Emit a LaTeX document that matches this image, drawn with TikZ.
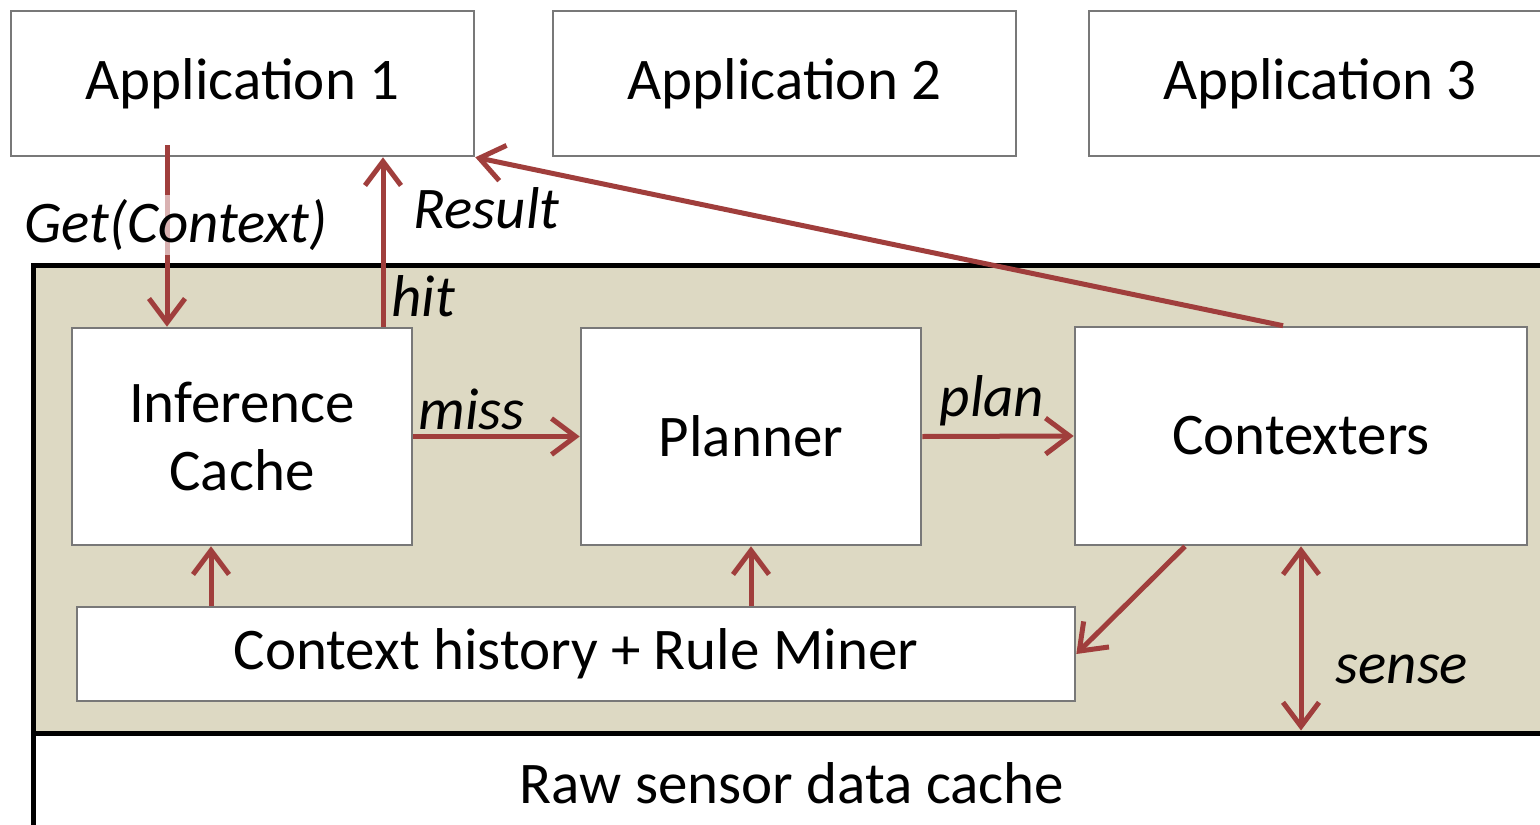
\documentclass[tikz,border=0pt]{standalone}
\usepackage{fontspec}
\setmainfont{Carlito}
\usetikzlibrary{arrows.meta}
\definecolor{flowred}{RGB}{160,62,60}
\definecolor{layerbeige}{RGB}{221,217,195}
\definecolor{boxgray}{RGB}{120,120,120}

\begin{document}
\begin{tikzpicture}[x=0.5pt, y=-0.5pt,
    every node/.style={font=\fontsize{29.5}{34}\selectfont},
    box/.style={draw=boxgray, line width=1.3pt, fill=white, align=center, inner sep=0pt},
    flow/.style={draw=flowred, line width=2.5pt, -{Straight Barb[length=12pt, width=18pt]}},
    lbl/.style={font=\fontsize{29.5}{34}\selectfont\itshape, inner sep=2pt}]
  \clip (0, 0) rectangle (1540, 824);
  \fill[white] (0, 0) rectangle (1540, 824);

  % middleware layer
  \draw[fill=layerbeige, line width=2.5pt] (33, 265) rectangle (1560, 733);

  \node[box, minimum width=231.5pt, minimum height=72.5pt] (A1) at (242.5, 83.5) {Application 1};
  \node[box, minimum width=231.5pt, minimum height=72.5pt] (A2) at (784.5, 83.5) {Application 2};
  \node[box, minimum width=231pt, minimum height=72.5pt] (A3) at (1320, 83.5) {Application 3};

  \node[box, minimum width=170pt, minimum height=108.5pt] (IC) at (242, 436.5) {Inference\\Cache};
  \node[box, minimum width=170pt, minimum height=108.5pt] (PL) at (751, 436.5) {Planner};
  \node[box, minimum width=226pt, minimum height=109pt] (CX) at (1301, 436) {Contexters};
  \node[box, minimum width=499pt, minimum height=47pt] (RM) at (576, 654) {Context history + Rule Miner};

  \node[draw, line width=2.5pt, fill=white, minimum width=759pt, minimum height=50pt, inner sep=0pt] (RAW) at (792, 783) {Raw sensor data cache};

  \coordinate (GC) at (167, 145);

  \draw[flow] (GC) -- (GC |- IC.north)
    node[lbl, pos=0.44, xshift=4.5pt, fill=white, fill opacity=0.6, text opacity=1] {Get(Context)};
  \draw[flow] ([xshift=70.5pt]IC.north) -- ([xshift=70.5pt]IC.north |- A1.south)
    node[lbl, pos=0.18, right, xshift=1pt] {hit}
    node[lbl, pos=0.7, right, xshift=12pt] {Result};
  \draw[flow] ([xshift=-9pt]CX.north) -- (A1.south east);
  \draw[flow] (IC.east) -- (PL.east -| PL.west) node[lbl, pos=0.35, above] {miss};
  \draw[flow] (PL.east) -- (CX.west) node[lbl, midway, above, xshift=-3pt, yshift=2pt] {plan};
  \draw[flow] ([xshift=-58pt]CX.south) -- (RM.east);
  \draw[flow] ([xshift=-15.5pt]RM.north -| IC.south) -- ([xshift=-15.5pt]IC.south);
  \draw[flow] (RM.north -| PL.south) -- (PL.south);
  \draw[flow, {Straight Barb[length=12pt, width=18pt]}-{Straight Barb[length=12pt, width=18pt]}]
    (CX.south) -- (CX.south |- RAW.north) node[lbl, pos=0.67, right, xshift=14pt] {sense};
\end{tikzpicture}
\end{document}
